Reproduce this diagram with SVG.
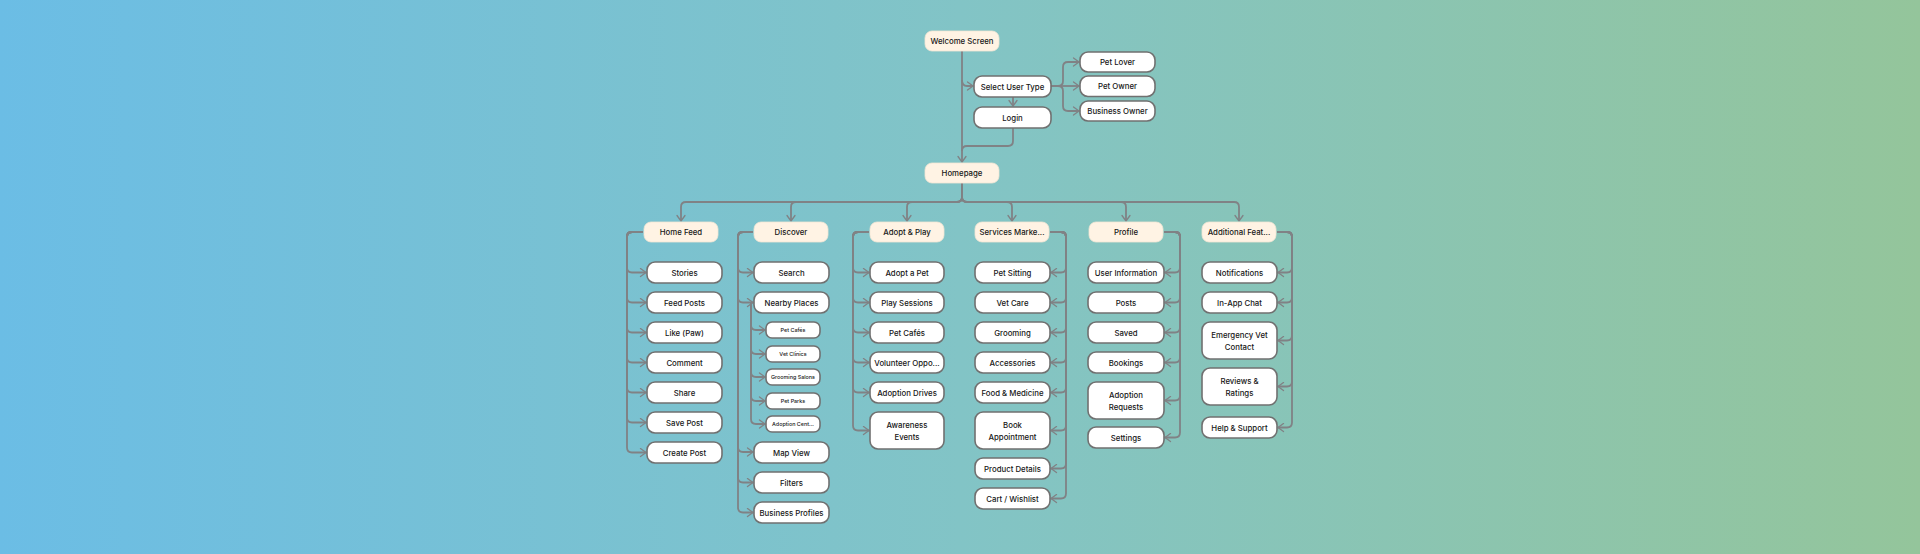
<svg xmlns="http://www.w3.org/2000/svg" width="1920" height="554" viewBox="0 0 1920 554">
<defs>
<linearGradient id="bg" x1="0" y1="0" x2="1" y2="0">
<stop offset="0" stop-color="#6bbde5"/>
<stop offset="0.5" stop-color="#82c4c6"/>
<stop offset="1" stop-color="#94c59b"/>
</linearGradient>
<marker id="ar" viewBox="-7 -5 8 10" refX="0" refY="0" markerWidth="8" markerHeight="10" markerUnits="userSpaceOnUse" orient="auto">
<path d="M-5.5,-4 L0,0 L-5.5,4" fill="none" stroke="#808285" stroke-width="1.3" stroke-linecap="round" stroke-linejoin="round"/>
</marker>
<style>
.c{fill:none;stroke:#808285;stroke-width:1.8;stroke-linejoin:round}
.a{marker-end:url(#ar)}
.h rect{fill:#fff3e4;stroke:#f3e6d4;stroke-width:0.8}
.n rect{fill:#ffffff;stroke:#707070;stroke-width:1.6}
text{font-family:Inter,"Noto Sans","Liberation Sans",sans-serif;font-size:7.8px;font-weight:500;fill:#161616;text-anchor:middle;dominant-baseline:central}
.s text{font-size:5.4px}
</style>
</defs>
<rect width="1920" height="554" fill="url(#bg)"/>

<g id="connectors">
<path class="c a" d="M962,51 V162"/>
<path class="c a" d="M962,80 Q962,86 967,86 H973"/>
<path class="c a" d="M1013,97 V106"/>
<path class="c" d="M1013,128 V141 Q1013,146 1008,146 H967 Q962,146 962,151"/>
<path class="c a" d="M1051,86 H1058 Q1063,86 1063,81 V67 Q1063,62 1068,62 H1079"/>
<path class="c a" d="M1051,86 H1079"/>
<path class="c a" d="M1051,86 H1058 Q1063,86 1063,91 V106 Q1063,111 1068,111 H1079"/>
<path class="c a" d="M962,183 V197 Q962,202 957,202 H686 Q681,202 681,207 V221"/>
<path class="c a" d="M962,183 V197 Q962,202 957,202 H796 Q791,202 791,207 V221"/>
<path class="c a" d="M962,183 V197 Q962,202 957,202 H912 Q907,202 907,207 V221"/>
<path class="c a" d="M962,183 V197 Q962,202 967,202 H1007 Q1012,202 1012,207 V221"/>
<path class="c a" d="M962,183 V197 Q962,202 967,202 H1121 Q1126,202 1126,207 V221"/>
<path class="c a" d="M962,183 V197 Q962,202 967,202 H1234 Q1239,202 1239,207 V221"/>
<path class="c a" d="M643,232 H632 Q627,232 627,237 V267.5 Q627,272.5 632,272.5 H646"/>
<path class="c a" d="M643,232 H632 Q627,232 627,237 V297.5 Q627,302.5 632,302.5 H646"/>
<path class="c a" d="M643,232 H632 Q627,232 627,237 V327.5 Q627,332.5 632,332.5 H646"/>
<path class="c a" d="M643,232 H632 Q627,232 627,237 V357.5 Q627,362.5 632,362.5 H646"/>
<path class="c a" d="M643,232 H632 Q627,232 627,237 V387.5 Q627,392.5 632,392.5 H646"/>
<path class="c a" d="M643,232 H632 Q627,232 627,237 V417.5 Q627,422.5 632,422.5 H646"/>
<path class="c a" d="M643,232 H632 Q627,232 627,237 V447.5 Q627,452.5 632,452.5 H646"/>
<path class="c a" d="M753,232 H743 Q738,232 738,237 V267.5 Q738,272.5 743,272.5 H753"/>
<path class="c a" d="M753,232 H743 Q738,232 738,237 V297.5 Q738,302.5 743,302.5 H753"/>
<path class="c a" d="M753,232 H743 Q738,232 738,237 V447 Q738,452 743,452 H753"/>
<path class="c a" d="M753,232 H743 Q738,232 738,237 V477.5 Q738,482.5 743,482.5 H753"/>
<path class="c a" d="M753,232 H743 Q738,232 738,237 V507.5 Q738,512.5 743,512.5 H753"/>
<path class="c a" d="M751,302.5 V325 Q751,330 756,330 H765"/>
<path class="c a" d="M751,302.5 V349 Q751,354 756,354 H765"/>
<path class="c a" d="M751,302.5 V372 Q751,377 756,377 H765"/>
<path class="c a" d="M751,302.5 V396 Q751,401 756,401 H765"/>
<path class="c a" d="M751,302.5 V419 Q751,424 756,424 H765"/>
<path class="c a" d="M869,232 H858 Q853,232 853,237 V267.5 Q853,272.5 858,272.5 H869"/>
<path class="c a" d="M869,232 H858 Q853,232 853,237 V297.5 Q853,302.5 858,302.5 H869"/>
<path class="c a" d="M869,232 H858 Q853,232 853,237 V327.5 Q853,332.5 858,332.5 H869"/>
<path class="c a" d="M869,232 H858 Q853,232 853,237 V357.5 Q853,362.5 858,362.5 H869"/>
<path class="c a" d="M869,232 H858 Q853,232 853,237 V387.5 Q853,392.5 858,392.5 H869"/>
<path class="c a" d="M869,232 H858 Q853,232 853,237 V425.5 Q853,430.5 858,430.5 H869"/>
<path class="c a" d="M1050,232 H1061 Q1066,232 1066,237 V267.5 Q1066,272.5 1061,272.5 H1051"/>
<path class="c a" d="M1050,232 H1061 Q1066,232 1066,237 V297.5 Q1066,302.5 1061,302.5 H1051"/>
<path class="c a" d="M1050,232 H1061 Q1066,232 1066,237 V327.5 Q1066,332.5 1061,332.5 H1051"/>
<path class="c a" d="M1050,232 H1061 Q1066,232 1066,237 V357.5 Q1066,362.5 1061,362.5 H1051"/>
<path class="c a" d="M1050,232 H1061 Q1066,232 1066,237 V387.5 Q1066,392.5 1061,392.5 H1051"/>
<path class="c a" d="M1050,232 H1061 Q1066,232 1066,237 V425.5 Q1066,430.5 1061,430.5 H1051"/>
<path class="c a" d="M1050,232 H1061 Q1066,232 1066,237 V463.5 Q1066,468.5 1061,468.5 H1051"/>
<path class="c a" d="M1050,232 H1061 Q1066,232 1066,237 V493.5 Q1066,498.5 1061,498.5 H1051"/>
<path class="c a" d="M1164,232 H1175 Q1180,232 1180,237 V267.5 Q1180,272.5 1175,272.5 H1165"/>
<path class="c a" d="M1164,232 H1175 Q1180,232 1180,237 V297.5 Q1180,302.5 1175,302.5 H1165"/>
<path class="c a" d="M1164,232 H1175 Q1180,232 1180,237 V327.5 Q1180,332.5 1175,332.5 H1165"/>
<path class="c a" d="M1164,232 H1175 Q1180,232 1180,237 V357.5 Q1180,362.5 1175,362.5 H1165"/>
<path class="c a" d="M1164,232 H1175 Q1180,232 1180,237 V395.5 Q1180,400.5 1175,400.5 H1165"/>
<path class="c a" d="M1164,232 H1175 Q1180,232 1180,237 V432.5 Q1180,437.5 1175,437.5 H1165"/>
<path class="c a" d="M1277,232 H1287 Q1292,232 1292,237 V267.5 Q1292,272.5 1287,272.5 H1278"/>
<path class="c a" d="M1277,232 H1287 Q1292,232 1292,237 V297.5 Q1292,302.5 1287,302.5 H1278"/>
<path class="c a" d="M1277,232 H1287 Q1292,232 1292,237 V335.5 Q1292,340.5 1287,340.5 H1278"/>
<path class="c a" d="M1277,232 H1287 Q1292,232 1292,237 V381.5 Q1292,386.5 1287,386.5 H1278"/>
<path class="c a" d="M1277,232 H1287 Q1292,232 1292,237 V422.5 Q1292,427.5 1287,427.5 H1278"/>
</g>

<g id="welcome" class="h"><rect x="925" y="31" width="74" height="20" rx="7"/><text x="962" y="41">Welcome Screen</text></g>
<g id="select-user-type" class="n"><rect x="974" y="76" width="77" height="21" rx="8"/><text x="1012.5" y="86.5">Select User Type</text></g>
<g id="login" class="n"><rect x="974" y="107" width="77" height="21" rx="8"/><text x="1012.5" y="117.5">Login</text></g>
<g id="pet-lover" class="n"><rect x="1080" y="52" width="75" height="20" rx="8"/><text x="1117.5" y="62">Pet Lover</text></g>
<g id="pet-owner" class="n"><rect x="1080" y="76" width="75" height="20.5" rx="8"/><text x="1117.5" y="86.2">Pet Owner</text></g>
<g id="business-owner" class="n"><rect x="1080" y="101" width="75" height="20" rx="8"/><text x="1117.5" y="111">Business Owner</text></g>
<g id="homepage" class="h"><rect x="925" y="163" width="74" height="20" rx="7"/><text x="962" y="173">Homepage</text></g>

<g id="home-feed" class="h"><rect x="644" y="222" width="74" height="20" rx="7"/><text x="681" y="232">Home Feed</text></g>
<g id="discover" class="h"><rect x="754" y="222" width="74" height="20" rx="7"/><text x="791" y="232">Discover</text></g>
<g id="adopt-play" class="h"><rect x="870" y="222" width="74" height="20" rx="7"/><text x="907" y="232">Adopt &amp; Play</text></g>
<g id="services" class="h"><rect x="975" y="222" width="74" height="20" rx="7"/><text x="1012" y="232">Services Marke...</text></g>
<g id="profile" class="h"><rect x="1089" y="222" width="74" height="20" rx="7"/><text x="1126" y="232">Profile</text></g>
<g id="additional" class="h"><rect x="1202" y="222" width="74" height="20" rx="7"/><text x="1239" y="232">Additional Feat...</text></g>

<g id="stories" class="n"><rect x="647" y="262" width="75" height="21" rx="8"/><text x="684.5" y="272.5">Stories</text></g>
<g id="feed-posts" class="n"><rect x="647" y="292" width="75" height="21" rx="8"/><text x="684.5" y="302.5">Feed Posts</text></g>
<g id="like" class="n"><rect x="647" y="322" width="75" height="21" rx="8"/><text x="684.5" y="332.5">Like (Paw)</text></g>
<g id="comment" class="n"><rect x="647" y="352" width="75" height="21" rx="8"/><text x="684.5" y="362.5">Comment</text></g>
<g id="share" class="n"><rect x="647" y="382" width="75" height="21" rx="8"/><text x="684.5" y="392.5">Share</text></g>
<g id="save-post" class="n"><rect x="647" y="412" width="75" height="21" rx="8"/><text x="684.5" y="422.5">Save Post</text></g>
<g id="create-post" class="n"><rect x="647" y="442" width="75" height="21" rx="8"/><text x="684.5" y="452.5">Create Post</text></g>

<g id="search" class="n"><rect x="754" y="262" width="75" height="21" rx="8"/><text x="791.5" y="272.5">Search</text></g>
<g id="nearby-places" class="n"><rect x="754" y="292" width="75" height="21" rx="8"/><text x="791.5" y="302.5">Nearby Places</text></g>
<g id="pet-cafes-d" class="n s"><rect x="766" y="322" width="54" height="16" rx="6"/><text x="793" y="330">Pet Cafés</text></g>
<g id="vet-clinics" class="n s"><rect x="766" y="346" width="54" height="16" rx="6"/><text x="793" y="354">Vet Clinics</text></g>
<g id="grooming-salons" class="n s"><rect x="766" y="369" width="54" height="16" rx="6"/><text x="793" y="377">Grooming Salons</text></g>
<g id="pet-parks" class="n s"><rect x="766" y="393" width="54" height="16" rx="6"/><text x="793" y="401">Pet Parks</text></g>
<g id="adoption-centers" class="n s"><rect x="766" y="416" width="54" height="16" rx="6"/><text x="793" y="424">Adoption Cent...</text></g>
<g id="map-view" class="n"><rect x="754" y="442" width="75" height="21" rx="8"/><text x="791.5" y="452.5">Map View</text></g>
<g id="filters" class="n"><rect x="754" y="472" width="75" height="21" rx="8"/><text x="791.5" y="482.5">Filters</text></g>
<g id="business-profiles" class="n"><rect x="754" y="502" width="75" height="21" rx="8"/><text x="791.5" y="512.5">Business Profiles</text></g>

<g id="adopt-a-pet" class="n"><rect x="870" y="262" width="74" height="21" rx="8"/><text x="907" y="272.5">Adopt a Pet</text></g>
<g id="play-sessions" class="n"><rect x="870" y="292" width="74" height="21" rx="8"/><text x="907" y="302.5">Play Sessions</text></g>
<g id="pet-cafes" class="n"><rect x="870" y="322" width="74" height="21" rx="8"/><text x="907" y="332.5">Pet Cafés</text></g>
<g id="volunteer" class="n"><rect x="870" y="352" width="74" height="21" rx="8"/><text x="907" y="362.5">Volunteer Oppo...</text></g>
<g id="adoption-drives" class="n"><rect x="870" y="382" width="74" height="21" rx="8"/><text x="907" y="392.5">Adoption Drives</text></g>
<g id="awareness-events" class="n"><rect x="870" y="412" width="74" height="37" rx="8"/><text x="907" y="424.5">Awareness</text><text x="907" y="436.5">Events</text></g>

<g id="pet-sitting" class="n"><rect x="975" y="262" width="75" height="21" rx="8"/><text x="1012.5" y="272.5">Pet Sitting</text></g>
<g id="vet-care" class="n"><rect x="975" y="292" width="75" height="21" rx="8"/><text x="1012.5" y="302.5">Vet Care</text></g>
<g id="grooming" class="n"><rect x="975" y="322" width="75" height="21" rx="8"/><text x="1012.5" y="332.5">Grooming</text></g>
<g id="accessories" class="n"><rect x="975" y="352" width="75" height="21" rx="8"/><text x="1012.5" y="362.5">Accessories</text></g>
<g id="food-medicine" class="n"><rect x="975" y="382" width="75" height="21" rx="8"/><text x="1012.5" y="392.5">Food &amp; Medicine</text></g>
<g id="book-appointment" class="n"><rect x="975" y="412" width="75" height="37" rx="8"/><text x="1012.5" y="424.5">Book</text><text x="1012.5" y="436.5">Appointment</text></g>
<g id="product-details" class="n"><rect x="975" y="458" width="75" height="21" rx="8"/><text x="1012.5" y="468.5">Product Details</text></g>
<g id="cart-wishlist" class="n"><rect x="975" y="488" width="75" height="21" rx="8"/><text x="1012.5" y="498.5">Cart / Wishlist</text></g>

<g id="user-information" class="n"><rect x="1088" y="262" width="76" height="21" rx="8"/><text x="1126" y="272.5">User Information</text></g>
<g id="posts" class="n"><rect x="1088" y="292" width="76" height="21" rx="8"/><text x="1126" y="302.5">Posts</text></g>
<g id="saved" class="n"><rect x="1088" y="322" width="76" height="21" rx="8"/><text x="1126" y="332.5">Saved</text></g>
<g id="bookings" class="n"><rect x="1088" y="352" width="76" height="21" rx="8"/><text x="1126" y="362.5">Bookings</text></g>
<g id="adoption-requests" class="n"><rect x="1088" y="382" width="76" height="37" rx="8"/><text x="1126" y="394.5">Adoption</text><text x="1126" y="406.5">Requests</text></g>
<g id="settings" class="n"><rect x="1088" y="427" width="76" height="21" rx="8"/><text x="1126" y="437.5">Settings</text></g>

<g id="notifications" class="n"><rect x="1202" y="262" width="75" height="21" rx="8"/><text x="1239.5" y="272.5">Notifications</text></g>
<g id="in-app-chat" class="n"><rect x="1202" y="292" width="75" height="21" rx="8"/><text x="1239.5" y="302.5">In-App Chat</text></g>
<g id="emergency-vet" class="n"><rect x="1202" y="322" width="75" height="37" rx="8"/><text x="1239.5" y="334.5">Emergency Vet</text><text x="1239.5" y="346.5">Contact</text></g>
<g id="reviews-ratings" class="n"><rect x="1202" y="368" width="75" height="37" rx="8"/><text x="1239.5" y="380.5">Reviews &amp;</text><text x="1239.5" y="392.5">Ratings</text></g>
<g id="help-support" class="n"><rect x="1202" y="417" width="75" height="21" rx="8"/><text x="1239.5" y="427.5">Help &amp; Support</text></g>
</svg>
